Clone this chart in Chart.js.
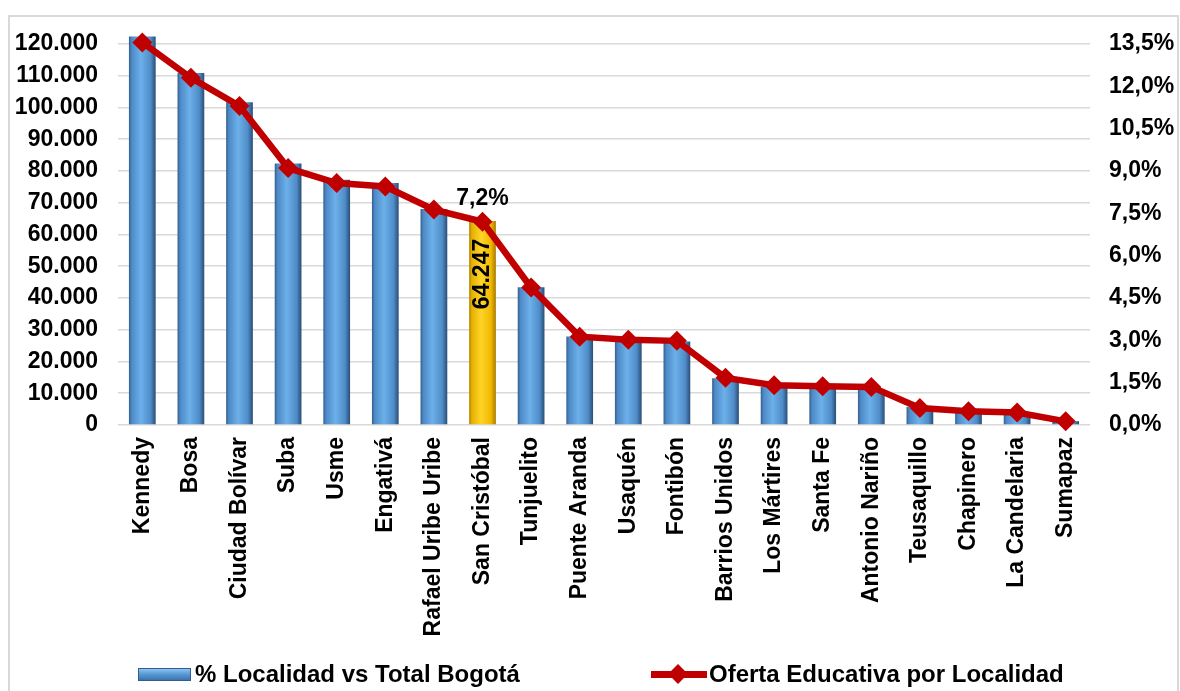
<!DOCTYPE html>
<html>
<head>
<meta charset="utf-8">
<script src="https://cdn.jsdelivr.net/npm/chart.js@4.4.1/dist/chart.umd.min.js"></script>
<style>
  html, body { margin: 0; padding: 0; background: #fff; }
  #wrap { position: relative; width: 1180px; height: 691px; overflow: hidden; font-family: "Liberation Sans", Arial, sans-serif; }
  #frame { position: absolute; left: 8px; top: 15px; width: 1171px; height: 700px; border: 2px solid #d9d9d9; box-sizing: border-box; }
  #chart { position: absolute; left: 0; top: 0; }
  .leg { position: absolute; top: 660px; height: 28px; line-height: 28px; font-weight: bold; font-size: 24px; color: #000; white-space: nowrap; }
  .box { position: absolute; left: 138px; top: 668px; width: 53px; height: 13px; background: linear-gradient(to bottom, #8cc4f2, #5b9bd5 45%, #3d74ad); border: 1px solid #2f5d8f; box-sizing: border-box; }
  .lin { position: absolute; left: 651px; top: 671px; width: 56px; height: 7px; background: #c00000; }
  .dia { position: absolute; left: 671px; top: 667px; width: 14px; height: 14px; background: #c00000; transform: rotate(45deg); }
</style>
</head>
<body>
<div id="wrap">
  <div id="frame"></div>
  <canvas id="chart" width="1180" height="691"></canvas>
  <div class="box"></div>
  <div class="leg" style="left:195px">% Localidad vs Total Bogotá</div>
  <div class="lin"></div>
  <div class="dia"></div>
  <div class="leg" style="left:709px">Oferta Educativa por Localidad</div>
</div>
<script>
const LOCALIDADES = ['Kennedy', 'Bosa', 'Ciudad Bolívar', 'Suba', 'Usme', 'Engativá', 'Rafael Uribe Uribe',
  'San Cristóbal', 'Tunjuelito', 'Puente Aranda', 'Usaquén', 'Fontibón', 'Barrios Unidos', 'Los Mártires',
  'Santa Fe', 'Antonio Nariño', 'Teusaquillo', 'Chapinero', 'La Candelaria', 'Sumapaz'];

// matricula por localidad (eje izquierdo)
const ESTUDIANTES = [122300, 110800, 101600, 82300, 77200, 76200, 68000,
  64247, 43400, 27900, 26900, 26300, 14700, 12000,
  11500, 11200, 5700, 4100, 3600, 1200];

// % localidad vs total (eje derecho)
const PORCENTAJE = [13.55, 12.3, 11.3, 9.1, 8.57, 8.45, 7.63,
  7.2, 4.87, 3.13, 3.02, 2.98, 1.67, 1.41,
  1.37, 1.35, 0.6, 0.49, 0.44, 0.13];

const TICKS_IZQ = [0, 10000, 20000, 30000, 40000, 50000, 60000, 70000, 80000, 90000, 100000, 110000, 120000];
const TICKS_DER = [0, 1.5, 3, 4.5, 6, 7.5, 9, 10.5, 12, 13.5];
const DESTACADA = 'San Cristóbal';

const FUENTE = '"Liberation Sans", Arial, sans-serif';

const miles = v => String(Math.round(v)).replace(/\B(?=(\d{3})+(?!\d))/g, '.');
const pct = v => v.toFixed(1).replace('.', ',') + '%';

const barFill = ctx => {
  const amarilla = LOCALIDADES[ctx.dataIndex] === DESTACADA;
  const x = ctx.chart.scales.x ? ctx.chart.scales.x.getPixelForValue(ctx.dataIndex) : NaN;
  if (ctx.type !== 'data' || !isFinite(x)) return amarilla ? '#ffc000' : '#5b9bd5';
  const g = ctx.chart.ctx.createLinearGradient(x - 14, 0, x + 14, 0);
  if (amarilla) {
    g.addColorStop(0, '#a57a00');
    g.addColorStop(0.12, '#e6b000');
    g.addColorStop(0.45, '#ffd428');
    g.addColorStop(0.8, '#f2b800');
    g.addColorStop(1, '#9c7300');
  } else {
    g.addColorStop(0, '#2c5580');
    g.addColorStop(0.12, '#4d89c6');
    g.addColorStop(0.45, '#6cb0ea');
    g.addColorStop(0.8, '#4f8cc8');
    g.addColorStop(1, '#23456a');
  }
  return g;
};

const etiquetas = {
  id: 'etiquetas',
  afterDatasetsDraw(chart) {
    const i = LOCALIDADES.indexOf(DESTACADA);
    const bar = chart.getDatasetMeta(1).data[i];
    const pt = chart.getDatasetMeta(0).data[i];
    const c = chart.ctx;
    c.save();
    c.font = 'bold 23px ' + FUENTE;
    c.fillStyle = '#000';
    c.textAlign = 'center';
    c.textBaseline = 'middle';
    c.fillText(pct(PORCENTAJE[i]), pt.x, pt.y - 23);
    c.translate(bar.x, bar.y + 53);
    c.rotate(-Math.PI / 2);
    c.fillText(miles(ESTUDIANTES[i]), 0, 0);
    c.restore();
  }
};

const sinRelleno = s => { s.paddingTop = 0; s.paddingBottom = 0; };

new Chart(document.getElementById('chart'), {
  data: {
    labels: LOCALIDADES,
    datasets: [
      {
        type: 'line',
        label: 'Oferta Educativa por Localidad',
        data: PORCENTAJE,
        yAxisID: 'y1',
        borderColor: '#c00000',
        borderWidth: 6.5,
        pointStyle: 'rectRot',
        pointRadius: 10,
        pointBackgroundColor: '#c00000',
        pointBorderColor: '#c00000',
        pointBorderWidth: 0,
        tension: 0,
        clip: false,
        order: 0,
      },
      {
        type: 'bar',
        label: '% Localidad vs Total Bogotá',
        data: ESTUDIANTES,
        yAxisID: 'y',
        backgroundColor: barFill,
        categoryPercentage: 1,
        barPercentage: 0.55,
        order: 1,
      },
    ],
  },
  options: {
    responsive: false,
    animation: false,
    layout: { padding: { top: 28, left: 0, right: 0, bottom: 0 } },
    plugins: {
      legend: { display: false },
      tooltip: { enabled: false },
    },
    scales: {
      x: {
        grid: { display: false, drawTicks: false },
        border: { display: false },
        ticks: {
          color: '#000',
          font: { family: FUENTE, size: 23, weight: 'bold' },
          maxRotation: 90,
          minRotation: 90,
          autoSkip: false,
          padding: 12,
        },
        afterFit: s => { s.height = 266; },
      },
      y: {
        position: 'left',
        min: 0,
        max: 125000,
        afterBuildTicks: s => { s.ticks = TICKS_IZQ.map(v => ({ value: v })); },
        grid: { color: '#d9d9d9', lineWidth: 1.5, drawTicks: false },
        border: { display: false },
        ticks: {
          color: '#000',
          font: { family: FUENTE, size: 23, weight: 'bold' },
          padding: 20,
          callback: v => miles(v),
        },
        afterFit: s => { s.width = 118; sinRelleno(s); },
      },
      y1: {
        position: 'right',
        min: 0,
        max: 14.0625,
        afterBuildTicks: s => { s.ticks = TICKS_DER.map(v => ({ value: v })); },
        grid: { display: false, drawTicks: false },
        border: { display: false },
        ticks: {
          color: '#000',
          font: { family: FUENTE, size: 23, weight: 'bold' },
          padding: 19,
          callback: v => pct(v),
        },
        afterFit: s => { s.width = 90; sinRelleno(s); },
      },
    },
  },
  plugins: [etiquetas],
});
</script>
</body>
</html>
